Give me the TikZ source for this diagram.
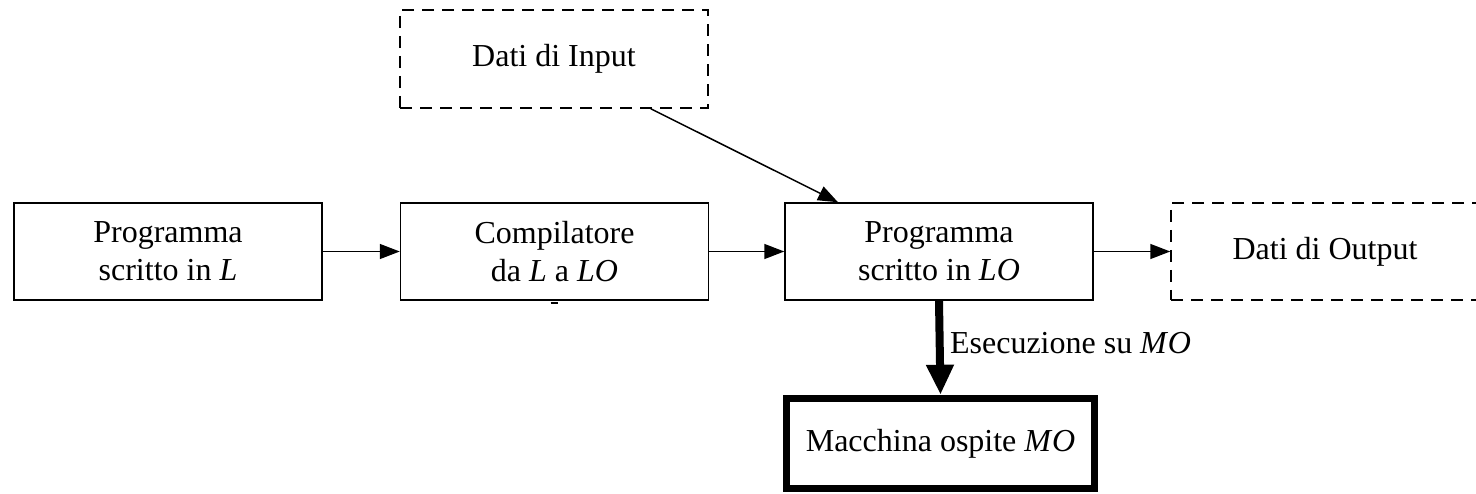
\documentclass[tikz,border=0pt]{standalone}
\usepackage{fontspec}
\setmainfont{Liberation Serif}
\usetikzlibrary{arrows.meta}
\begin{document}
\begin{tikzpicture}[x=1pt,y=-1pt,
  txt/.style={font=\fontsize{32}{38}\selectfont},
  box/.style={draw, line width=1.5pt, align=center, inner sep=0pt,
    minimum width=308pt, minimum height=97pt, txt},
  dbox/.style={box, dash pattern=on 12pt off 8pt},
  hostbox/.style={box, line width=7.5pt, minimum width=308pt, minimum height=90pt},
  flow/.style={-{Triangle[length=20pt,width=15pt]}, line width=1.5pt},
  boldflow/.style={-{Triangle[length=30pt,width=26pt]}, line width=8pt}]
  % canvas
  \fill[white] (0,0) rectangle (1476,494);
  \useasboundingbox (0,0) rectangle (1476,494);
  % blocks
  \node[box]  (src)  at (168,251.5)   {Programma\\scritto in \textit{L}};
  \node[box]  (comp) at (554.5,251.5) {Compilatore\\da \textit{L} a \textit{LO}};
  \node[box]  (obj)  at (939,251.5)   {Programma\\scritto in \textit{LO}};
  \node[dbox] (out)  at (1325,251.5)  {Dati di Output};
  \node[dbox, minimum height=98pt] (in) at (554,59) {Dati di Input};
  \node[hostbox] (host) at (940.5,443.5) {Macchina ospite \textit{M\kern1pt O}};
  % connectors
  \draw[flow] (src) -- (comp);
  \draw[flow] (comp) -- (obj);
  \draw[flow] (obj) -- (out);
  \draw[flow] ([xshift=-58pt]in.south east) -- ([xshift=-101pt]obj.north);
  \draw[boldflow] (obj.south) -- node[txt, anchor=west, xshift=3pt, yshift=5pt]
    {Esecuzione su \textit{M\kern1pt O}} (host.north);
  % small mark under the compiler box
  \draw[line width=2pt] ([xshift=-4pt,yshift=-2pt]comp.south) -- ([xshift=3pt,yshift=-2pt]comp.south);
\end{tikzpicture}
\end{document}
